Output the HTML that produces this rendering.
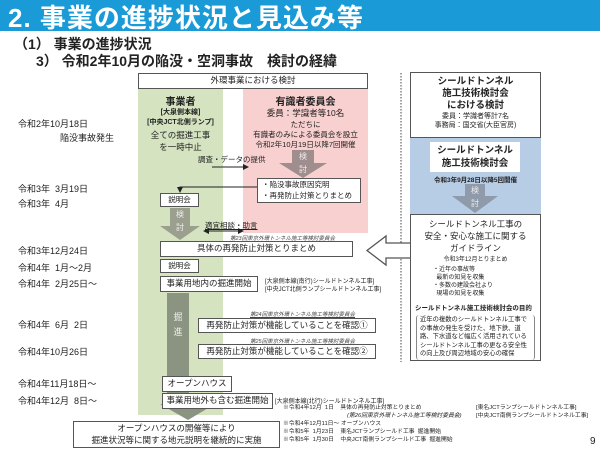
<!DOCTYPE html>
<html><head><meta charset="utf-8"><style>
*{margin:0;padding:0;box-sizing:border-box}
body{width:600px;height:450px;position:relative;background:#fff;overflow:hidden;font-family:"Liberation Sans","Noto Sans CJK JP",sans-serif;color:#222}
.a{position:absolute;white-space:nowrap}
.b{position:absolute;border:1.3px solid #555;background:#fff}
.c{text-align:center}
.s{font-size:7.5px}
.m{font-size:8.5px}
.d{font-size:9px}
.it{font-style:italic;text-decoration:underline;font-size:5.5px;color:#444}
.n{font-size:5.8px;line-height:8px}
</style></head><body>
<div class="a" style="left:0;top:0;width:600px;height:31px;background:#1a9bd7"></div>
<div class="a" style="left:8px;top:-2px;font-size:26px;font-weight:bold;color:#fff;letter-spacing:1px">2. 事業の進捗状況と見込み等</div>
<div class="a" style="left:14px;top:34px;font-size:14px;font-weight:bold">（1） 事業の進捗状況</div>
<div class="a" style="left:36px;top:51px;font-size:14px;font-weight:bold">3） 令和2年10月の陥没・空洞事故　検討の経緯</div>

<div class="a" style="left:138px;top:88px;width:85px;height:327px;background:#d5e3c0"></div>
<div class="a" style="left:243px;top:88px;width:125px;height:145px;background:#f9d0d0"></div>
<div class="b c m" style="left:138px;top:73px;width:230px;height:16px;line-height:13px">外環事業における検討</div>

<div class="a d" style="left:18px;top:117px">令和2年10月18日</div>
<div class="a d" style="left:60px;top:131px">陥没事故発生</div>
<div class="a d" style="left:18px;top:182px">令和3年&nbsp;&nbsp;3月19日</div>
<div class="a d" style="left:18px;top:197px">令和3年&nbsp;&nbsp;4月</div>
<div class="a d" style="left:18px;top:244px">令和3年12月24日</div>
<div class="a d" style="left:18px;top:261px">令和4年&nbsp;&nbsp;1月～2月</div>
<div class="a d" style="left:18px;top:277px">令和4年&nbsp;&nbsp;2月25日～</div>
<div class="a d" style="left:18px;top:318px">令和4年&nbsp;&nbsp;6月&nbsp;&nbsp;2日</div>
<div class="a d" style="left:18px;top:345px">令和4年10月26日</div>
<div class="a d" style="left:18px;top:377px">令和4年11月18日～</div>
<div class="a d" style="left:18px;top:394px">令和4年12月&nbsp;&nbsp;8日～</div>

<div class="a c" style="left:138px;top:93px;width:85px;font-size:10px;font-weight:bold">事業者</div>
<div class="a c" style="left:138px;top:108px;width:85px;font-size:7px;font-weight:bold;line-height:10px">[大泉側本線]<br>[中央JCT北側ランプ]</div>
<div class="a c m" style="left:138px;top:129px;width:85px;line-height:12px">全ての掘進工事<br>を一時中止</div>
<div class="a c" style="left:243px;top:93px;width:125px;font-size:10px;font-weight:bold">有識者委員会</div>
<div class="a c m" style="left:243px;top:107px;width:125px">委員：学識者等10名</div>
<div class="a c s" style="left:243px;top:120px;width:125px;line-height:10px">ただちに<br>有識者のみによる委員会を設立<br>令和2年10月19日以降7回開催</div>
<div class="a s" style="left:198px;top:154px">調査・データの提供</div>

<svg class="a" style="left:0;top:0" width="600" height="450">
<defs><marker id="ah" markerWidth="6" markerHeight="6" refX="5" refY="3" orient="auto"><path d="M0,0L6,3L0,6z" fill="#222"/></marker>
<marker id="ah2" markerWidth="6" markerHeight="6" refX="1" refY="3" orient="auto"><path d="M6,0L0,3L6,6z" fill="#222"/></marker></defs>
<line x1="212" y1="167" x2="248" y2="167" stroke="#222" stroke-width="1" marker-end="url(#ah)"/>
<path d="M292,150h22v13h13l-24,15l-24,-15h13z" fill="#a08d8d"/>
<path d="M257,187H180V192" fill="none" stroke="#222" stroke-width="1" marker-end="url(#ah)"/>
<path d="M170,208h20v18h10l-20,14l-20,-14h10z" fill="#9a9f8e"/>
<line x1="204" y1="231" x2="243" y2="231" stroke="#222" stroke-width="1" marker-end="url(#ah)" marker-start="url(#ah2)"/>
<rect x="167" y="293" width="22" height="112" fill="#8a9480"/>
<path d="M160,404h55l-27,16z" fill="#8a9480"/>
<line x1="401" y1="73" x2="401" y2="362" stroke="#444" stroke-width="1" stroke-dasharray="1.5,1.5"/>
<path d="M410,243H386V236L367,250.5L386,265V258H410" fill="#fff" stroke="#555" stroke-width="1.3"/>
<rect x="410" y="138" width="131" height="76" fill="#b7cde6"/>
<path d="M465,184h20v12h13l-23,17l-23,-17h13z" fill="#8f9aaa"/>
</svg>
<div class="a c" style="left:170px;top:208px;width:20px;font-size:8px;color:#eee;line-height:13px">検<br>討</div>
<div class="a c" style="left:292px;top:150px;width:22px;font-size:8px;color:#eee;line-height:13px">検<br>討</div>
<div class="a c" style="left:465px;top:184px;width:20px;font-size:8px;color:#eee;line-height:13px">検<br>討</div>
<div class="a c" style="left:167px;top:310px;width:22px;font-size:9px;color:#eee;line-height:15px">掘<br>進</div>

<div class="b s" style="left:257px;top:178px;width:104px;height:25px;padding-left:4px;line-height:11px">・陥没事故原因究明<br>・再発防止対策とりまとめ</div>
<div class="b c s" style="left:160px;top:193px;width:39px;height:14px;line-height:11px">説明会</div>
<div class="a s" style="left:205px;top:220px;text-decoration:underline">適宜相談・助言</div>
<div class="a it" style="left:230px;top:234px">第23回東京外環トンネル施工等検討委員会</div>
<div class="b c m" style="left:160px;top:241px;width:193px;height:16px;line-height:13px">具体の再発防止対策とりまとめ</div>
<div class="b c s" style="left:160px;top:259px;width:39px;height:14px;line-height:11px">説明会</div>
<div class="b c m" style="left:160px;top:276px;width:98px;height:16px;line-height:13px">事業用地内の掘進開始</div>
<div class="a" style="left:265px;top:278px;font-size:6px;line-height:8px">[大泉側本線(南行)シールドトンネル工事]<br>[中央JCT北側ランプシールドトンネル工事]</div>
<div class="a it" style="left:250px;top:310px">第24回東京外環トンネル施工等検討委員会</div>
<div class="b c m" style="left:198px;top:318px;width:178px;height:15px;line-height:12px">再発防止対策が機能していることを確認①</div>
<div class="a it" style="left:250px;top:337px">第25回東京外環トンネル施工等検討委員会</div>
<div class="b c m" style="left:198px;top:344px;width:178px;height:15px;line-height:12px">再発防止対策が機能していることを確認②</div>
<div class="b c m" style="left:162px;top:376px;width:70px;height:16px;line-height:13px">オープンハウス</div>
<div class="b c m" style="left:162px;top:393px;width:111px;height:16px;line-height:13px">事業用地外も含む掘進開始</div>
<div class="a" style="left:275px;top:396px;font-size:6px">[大泉側本線(北行)シールドトンネル工事]</div>
<div class="b c m" style="left:73px;top:421px;width:207px;height:27px;line-height:12px">オープンハウスの開催等により<br>掘進状況等に関する地元説明を継続的に実施</div>
<div class="a n" style="left:283px;top:404px">※令和4年12月&nbsp;&nbsp;1日&nbsp;&nbsp;&nbsp;&nbsp;具体の再発防止対策とりまとめ<br><span style="padding-left:64px;font-style:italic">(第26回東京外環トンネル施工等検討委員会)</span><br>※令和4年12月11日～ オープンハウス<br>※令和5年&nbsp;&nbsp;1月23日&nbsp;&nbsp;&nbsp;&nbsp;東名JCTランプシールド工事&nbsp;&nbsp;掘進開始<br>※令和5年&nbsp;&nbsp;1月30日&nbsp;&nbsp;&nbsp;&nbsp;中央JCT南側ランプシールド工事&nbsp;&nbsp;掘進開始</div>
<div class="a n" style="left:476px;top:404px">[東名JCTランプシールドトンネル工事]<br>[中央JCT南側ランプシールドトンネル工事]</div>
<div class="a" style="left:590px;top:436px;font-size:10px">9</div>

<div class="b c" style="left:410px;top:72px;width:131px;height:66px;padding-top:3px">
<div style="font-size:9.5px;font-weight:bold;line-height:12px">シールドトンネル<br>施工技術検討会<br>における検討</div>
<div style="font-size:7px;line-height:9px">委員：学識者等計7名<br>事務局：国交省(大臣官房)</div></div>
<div class="a c" style="left:430px;top:142px;width:90px;height:30px;background:#fff;font-size:9.5px;font-weight:bold;line-height:13px;padding-top:2px">シールドトンネル<br>施工技術検討会</div>
<div class="a c" style="left:410px;top:174px;width:131px;font-size:6.5px;font-weight:bold">令和3年9月28日以降5回開催</div>
<div class="b" style="left:410px;top:214px;width:131px;height:147px">
<div class="c" style="font-size:8.5px;line-height:12px;margin-top:3px">シールドトンネル工事の<br>安全・安心な施工に関する<br>ガイドライン</div>
<div class="c" style="font-size:6px">令和3年12月とりまとめ</div>
<div style="font-size:6px;line-height:8px;margin:3px 0 0 22px">・近年の事故等<br>&nbsp;&nbsp;最新の知見を収集<br>・多数の建設会社より<br>&nbsp;&nbsp;現場の知見を収集</div>
<div style="font-size:6.5px;font-weight:bold;margin:4px 0 0 4px">シールドトンネル施工技術検討会の目的</div>
<div style="font-size:6.3px;line-height:8.5px;margin:3px 5px 0 5px;padding:1px 3px;border-left:1px solid #888;border-right:1px solid #888;border-radius:3px;white-space:normal">近年の複数のシールドトンネル工事での事故の発生を受けた、地下鉄、道路、下水道など幅広く活用されているシールドトンネル工事の更なる安全性の向上及び周辺地域の安心の確保</div>
</div>
</body></html>
